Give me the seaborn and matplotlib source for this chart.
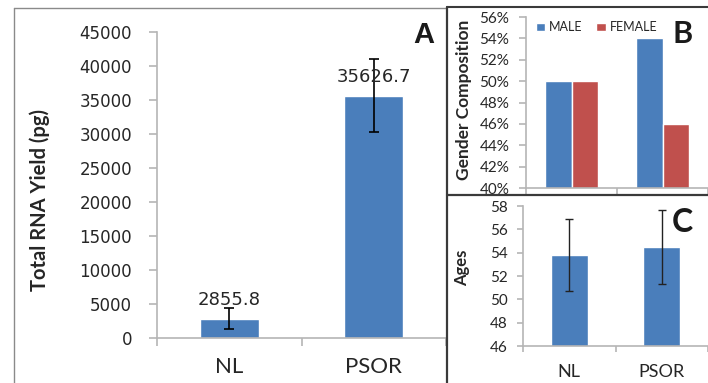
"""
plot.py
Three-panel figure: total RNA yield (A), gender composition (B), ages (C).
Saves out.png at 708x383 px.
"""

import matplotlib
matplotlib.use("Agg")
import matplotlib.pyplot as plt
import matplotlib.ticker as mticker
from matplotlib.lines import Line2D
import pandas as pd
import seaborn as sns

# -------------------------------------------------------
# Data
# -------------------------------------------------------
groups = ["NL", "PSOR"]
rna_yield = [2855.8, 35626.7]
rna_err = [1600, 5400]

sexes = ["MALE", "FEMALE"]
male_pct = [0.50, 0.54]
female_pct = [0.50, 0.46]

ages = [53.8, 54.5]
age_err = [3.1, 3.2]

# -------------------------------------------------------
# Style
# -------------------------------------------------------
BLUE = "#4a7ebb"
RED = "#c0504d"
AXIS = "#b5b5b5"
TEXT = "#262626"
FRAME = "#3a3a3a"

sns.set_theme(style="white")
plt.rcParams.update({
    "font.family": ["Lato", "DejaVu Sans"],
    "text.color": TEXT,
    "axes.labelcolor": TEXT,
    "xtick.color": TEXT,
    "ytick.color": TEXT,
    "figure.facecolor": "white",
    "axes.facecolor": "white",
})

W, H = 708, 383
fig = plt.figure(figsize=(W / 100, H / 100), dpi=100)


def box(left, top, right, bottom):
    """Axes rectangle from pixel edges (origin top-left)."""
    return [left / W, 1 - bottom / H, (right - left) / W, (bottom - top) / H]


def frame_line(x0, y0, x1, y1, color, lw):
    fig.add_artist(Line2D([x0 / W, x1 / W], [1 - y0 / H, 1 - y1 / H],
                          transform=fig.transFigure, color=color, lw=lw))


def style_axis(ax, width_px, cat_px, tick_len=5):
    for s in ["top", "right"]:
        ax.spines[s].set_visible(False)
    for s in ["left", "bottom"]:
        ax.spines[s].set_color(AXIS)
        ax.spines[s].set_linewidth(1.2)
    ax.set_xlim(-0.5, -0.5 + width_px / cat_px)
    ax.set_xticks([-0.5, 0.5, 1.5], minor=True)
    ax.tick_params(axis="x", which="minor", bottom=True, direction="out",
                   length=tick_len, width=1.2, color=AXIS)
    ax.tick_params(axis="x", which="major", bottom=True, length=0)
    ax.tick_params(axis="y", left=True, direction="out", length=tick_len,
                   width=1.2, color=AXIS)
    ax.set_xlabel("")


# ============================================================
# Panel A: total RNA yield
# ============================================================
axA = fig.add_axes(box(157, 32, 446, 338))
sns.barplot(x=groups, y=rna_yield, color=BLUE, saturation=1, width=0.41,
            errorbar=None, ax=axA)
axA.errorbar(range(len(groups)), rna_yield, yerr=rna_err, fmt="none",
             ecolor="black", elinewidth=1.2, capsize=3.6, capthick=1.2)
style_axis(axA, 289, 150, tick_len=6)
axA.set_ylim(0, 45000)
axA.yaxis.set_major_locator(mticker.MultipleLocator(5000))
axA.tick_params(axis="y", labelsize=12, pad=12)
axA.tick_params(axis="x", which="major", labelsize=16, pad=14)
for lab in axA.get_yticklabels():
    lab.set_fontfamily("DejaVu Sans")
for i, v in enumerate(rna_yield):
    axA.annotate(f"{v:.1f}", xy=(i, v), xytext=(0, 9.8),
                 textcoords="offset points", ha="center", va="baseline",
                 fontsize=13, family="DejaVu Sans", color=TEXT)
axA.set_ylabel("Total RNA Yield (pg)", fontsize=14.5, fontweight="bold")
axA.yaxis.set_label_coords(-0.37, 0.45)

# ============================================================
# Panel B: gender composition
# ============================================================
gender = pd.DataFrame({
    "group": groups * 2,
    "sex": [sexes[0]] * len(groups) + [sexes[1]] * len(groups),
    "pct": male_pct + female_pct,
})
axB = fig.add_axes(box(526, 17, 708, 188))
sns.barplot(data=gender, x="group", y="pct", hue="sex", hue_order=sexes,
            palette=[BLUE, RED], saturation=1, width=0.574, errorbar=None,
            ax=axB)
style_axis(axB, 182, 94, tick_len=5)
axB.set_ylim(0.40, 0.56)
axB.yaxis.set_major_locator(mticker.MultipleLocator(0.02))
axB.yaxis.set_major_formatter(mticker.PercentFormatter(1.0, decimals=0))
axB.tick_params(axis="y", labelsize=11, pad=7)
axB.set_xticklabels([])
handles, labels = axB.get_legend_handles_labels()
axB.legend(handles, labels, loc="upper left", bbox_to_anchor=(0.055, 0.975),
           ncol=2, frameon=False, fontsize=9, borderpad=0, borderaxespad=0,
           handlelength=0.75, handleheight=0.65, handletextpad=0.3,
           columnspacing=1.1)
axB.set_ylabel("Gender Composition", fontsize=12.5, fontweight="bold")
axB.yaxis.set_label_coords(-0.297, 0.518)

# ============================================================
# Panel C: ages
# ============================================================
axC = fig.add_axes(box(523, 206, 708, 346))
sns.barplot(x=groups, y=ages, color=BLUE, saturation=1, width=0.4,
            errorbar=None, ax=axC)
axC.errorbar(range(len(groups)), ages, yerr=age_err, fmt="none",
             ecolor="#222222", elinewidth=1.0, capsize=3, capthick=1.0)
style_axis(axC, 185, 95, tick_len=4)
axC.set_ylim(46, 58)
axC.yaxis.set_major_locator(mticker.MultipleLocator(2))
axC.tick_params(axis="y", labelsize=11, pad=7)
axC.tick_params(axis="x", which="major", labelsize=13, pad=13)
axC.set_ylabel("Ages", fontsize=12, fontweight="bold")
axC.yaxis.set_label_coords(-0.286, 0.557)

# -------------------------------------------------------
# Panel frames and letters
# -------------------------------------------------------
frame_line(14, 8, 446, 8, "#8a8a8a", 1.0)
frame_line(14, 8, 14, 383, "#8a8a8a", 1.0)
frame_line(447, 7, 708, 7, FRAME, 1.5)
frame_line(447, 7, 447, 383, FRAME, 1.6)
frame_line(447, 195, 708, 195, FRAME, 1.6)

fig.text(424 / W, 1 - 43 / H, "A", ha="center", va="baseline", fontsize=21,
         fontweight="bold", family="Liberation Sans", color="#1a1a1a")
fig.text(683 / W, 1 - 43 / H, "B", ha="center", va="baseline", fontsize=22,
         fontweight="bold", color="#1a1a1a")
fig.text(682 / W, 1 - 232 / H, "C", ha="center", va="baseline", fontsize=23,
         fontweight="bold", color="#1a1a1a")

fig.savefig("out.png", dpi=100)
plt.close(fig)
